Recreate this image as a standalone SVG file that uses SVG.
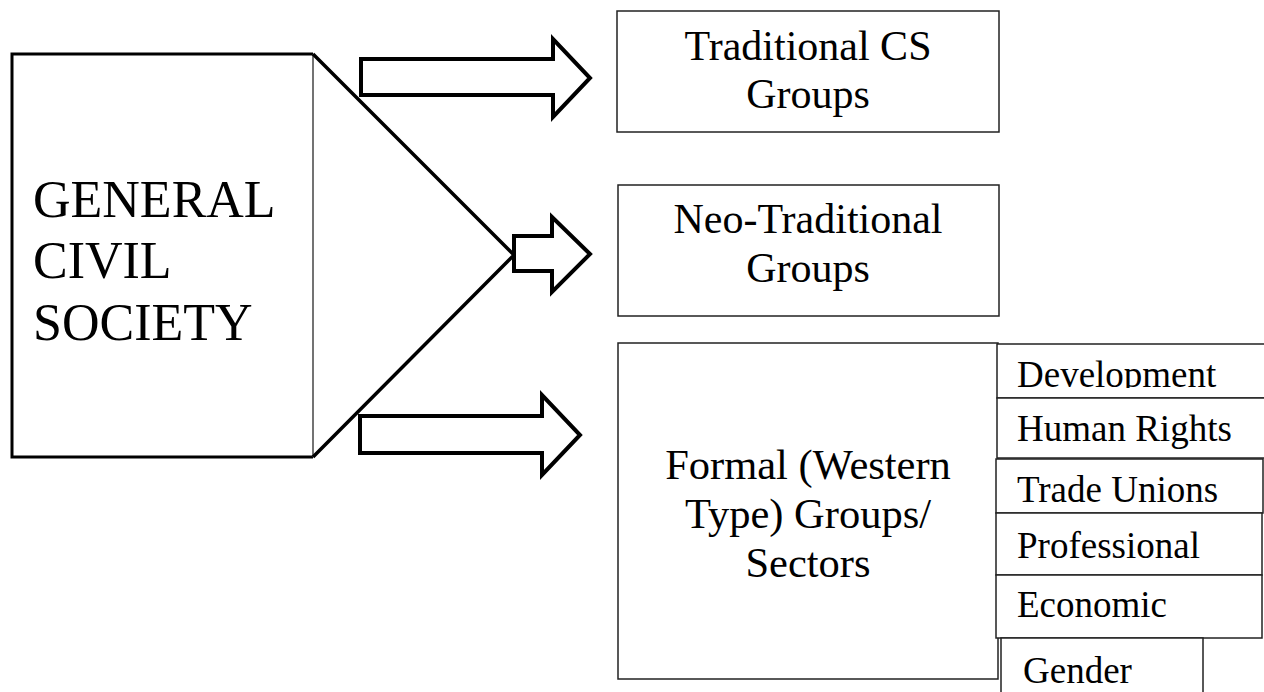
<svg xmlns="http://www.w3.org/2000/svg" width="1264" height="692" viewBox="0 0 1264 692">
<style>
.bg{fill:#fff}
.box{fill:#fff;stroke:#222;stroke-width:1.5}
.sub{fill:#fff;stroke:#222;stroke-width:1.5}
.arrow{fill:#fff;stroke:#000;stroke-width:4;stroke-linejoin:miter}
.diag{stroke:#000;stroke-width:3.5;fill:none}
text{fill:#000;font-family:"Liberation Serif","Times New Roman",serif}
.mid{text-anchor:middle}
</style>
<defs>
<clipPath id="clipDev"><rect x="997" y="344" width="267" height="44"/></clipPath>
</defs>
<rect class="bg" x="0" y="0" width="1264" height="692"/>

<g id="general-civil-society" font-size="52">
<path d="M313,54 H12 V457 H313" fill="#fff" stroke="#000" stroke-width="3"/>
<line x1="313" y1="54" x2="313" y2="457" stroke="#444" stroke-width="1.5"/>
<text x="33" y="217">GENERAL</text>
<text x="33" y="278">CIVIL</text>
<text x="33" y="340">SOCIETY</text>
</g>

<g id="connectors">
<polyline class="diag" points="313,54 514,255 313,457"/>
<polygon class="arrow" points="361,59 553,59 553,39 590,78 553,117 553,95 361,95"/>
<polygon class="arrow" points="514,236 552,236 552,217 590,254 552,292 552,271 514,271"/>
<polygon class="arrow" points="360,416 542,416 542,395 580,435 542,475 542,453 360,453"/>
</g>

<g id="traditional" font-size="42">
<rect class="box" x="617" y="11" width="382" height="121"/>
<text class="mid" x="808" y="60">Traditional CS</text>
<text class="mid" x="808" y="108">Groups</text>
</g>

<g id="neo-traditional" font-size="42">
<rect class="box" x="618" y="185" width="381" height="131"/>
<text class="mid" x="808" y="233">Neo-Traditional</text>
<text class="mid" x="808" y="282">Groups</text>
</g>

<g id="formal" font-size="42.5">
<rect class="box" x="618" y="343" width="380" height="336"/>
<text class="mid" x="808" y="479">Formal (Western</text>
<text class="mid" x="808" y="528">Type) Groups/</text>
<text class="mid" x="808" y="577">Sectors</text>
</g>

<g id="development" font-size="37">
<rect class="sub" x="997" y="344" width="280" height="54"/>
<text x="1017" y="387" clip-path="url(#clipDev)">Development</text>
</g>

<g id="human-rights" font-size="37">
<rect class="sub" x="997" y="398" width="280" height="60"/>
<text x="1017" y="441">Human Rights</text>
</g>

<g id="trade-unions" font-size="37">
<rect class="sub" x="996" y="459" width="267" height="54"/>
<text x="1017" y="502">Trade Unions</text>
</g>

<g id="professional" font-size="37">
<rect class="sub" x="996" y="513" width="266" height="62"/>
<text x="1017" y="558">Professional</text>
</g>

<g id="economic" font-size="37">
<rect class="sub" x="996" y="575" width="266" height="63"/>
<text x="1017" y="617">Economic</text>
</g>

<g id="gender" font-size="37">
<rect class="sub" x="1001" y="638" width="202" height="70"/>
<text x="1023" y="683">Gender</text>
</g>
</svg>
